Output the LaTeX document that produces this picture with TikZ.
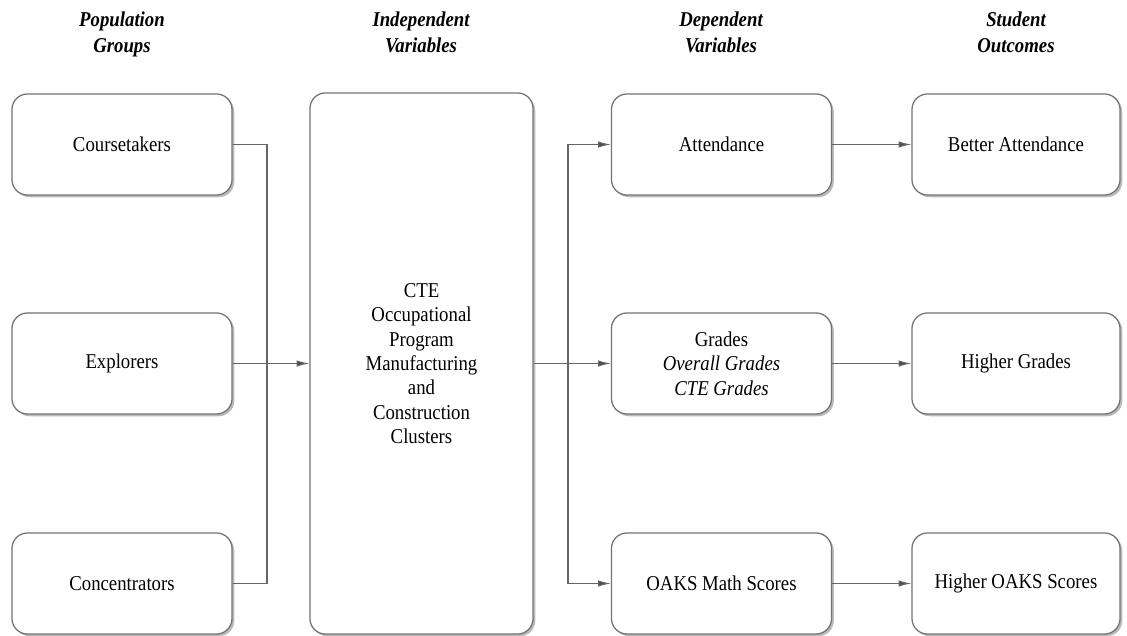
\documentclass[tikz,border=0pt]{standalone}
\usepackage{fontspec}
\setmainfont{Liberation Serif}[FakeStretch=0.89]
\usetikzlibrary{arrows.meta,shadows}
\tikzset{
  box/.style={draw=black!55,line width=0.9pt,rounded corners=11pt,fill=white,
    minimum width=5.5cm,minimum height=2.525cm,align=center,
    drop shadow={shadow xshift=1.6pt,shadow yshift=-1.6pt,opacity=0.45,fill=black!60},
    font=\fontsize{15}{17.3}\selectfont},
  head/.style={align=center,font=\fontsize{15}{18}\selectfont\bfseries\itshape,
    execute at end node=\strut},
  link/.style={draw=black!60,line width=0.75pt},
  arr/.style={link,-{Latex[length=9pt,width=4.5pt,fill=black!70]}}
}
\begin{document}
\begin{tikzpicture}[x=0.025cm,y=-0.025cm]
\useasboundingbox (0,0) rectangle (1127,636);
\node[head] (h1) at (122,36) {Population\\Groups};
\node[head] (h2) at (421,36) {Independent\\Variables};
\node[head] (h3) at (721,36) {Dependent\\Variables};
\node[head] (h4) at (1016,36) {Student\\Outcomes};

\node[box] (ct) at (122,144.5) {Coursetakers};
\node[box] (ex) at (122,363.5) {Explorers};
\node[box] (cn) at (122,583.5) {Concentrators};

\node[box,minimum width=5.575cm,minimum height=13.525cm] (cte) at (421.5,363.5)
  {CTE\\Occupational\\Program\\Manufacturing\\and\\Construction\\Clusters};

\node[box] (att) at (721.5,144.5) {Attendance};
\node[box] (gr) at (721.5,363.5) {Grades\\\textit{Overall Grades}\\\textit{CTE Grades}};
\node[box] (oak) at (721.5,583.5) {OAKS Math Scores};

\node[box,minimum width=5.2cm] (ba) at (1016,144.5) {Better Attendance};
\node[box,minimum width=5.2cm] (hg) at (1016,363.5) {Higher Grades};
\node[box,minimum width=5.2cm] (ho) at (1016,583.5) {Higher OAKS Scores};

\coordinate (jl) at (267,363.5);
\coordinate (jr) at (568,363.5);
\draw[link] (ct.east) -| (jl) |- (cn.east);
\draw[arr] (ex.east) -- (cte.west);
\draw[link] (cte.east) -- (jr);
\draw[arr] (jr) |- (att.west);
\draw[arr] (jr) -- (gr.west);
\draw[arr] (jr) |- (oak.west);
\draw[arr] (att.east) -- (ba.west);
\draw[arr] (gr.east) -- (hg.west);
\draw[arr] (oak.east) -- (ho.west);
\end{tikzpicture}
\end{document}
